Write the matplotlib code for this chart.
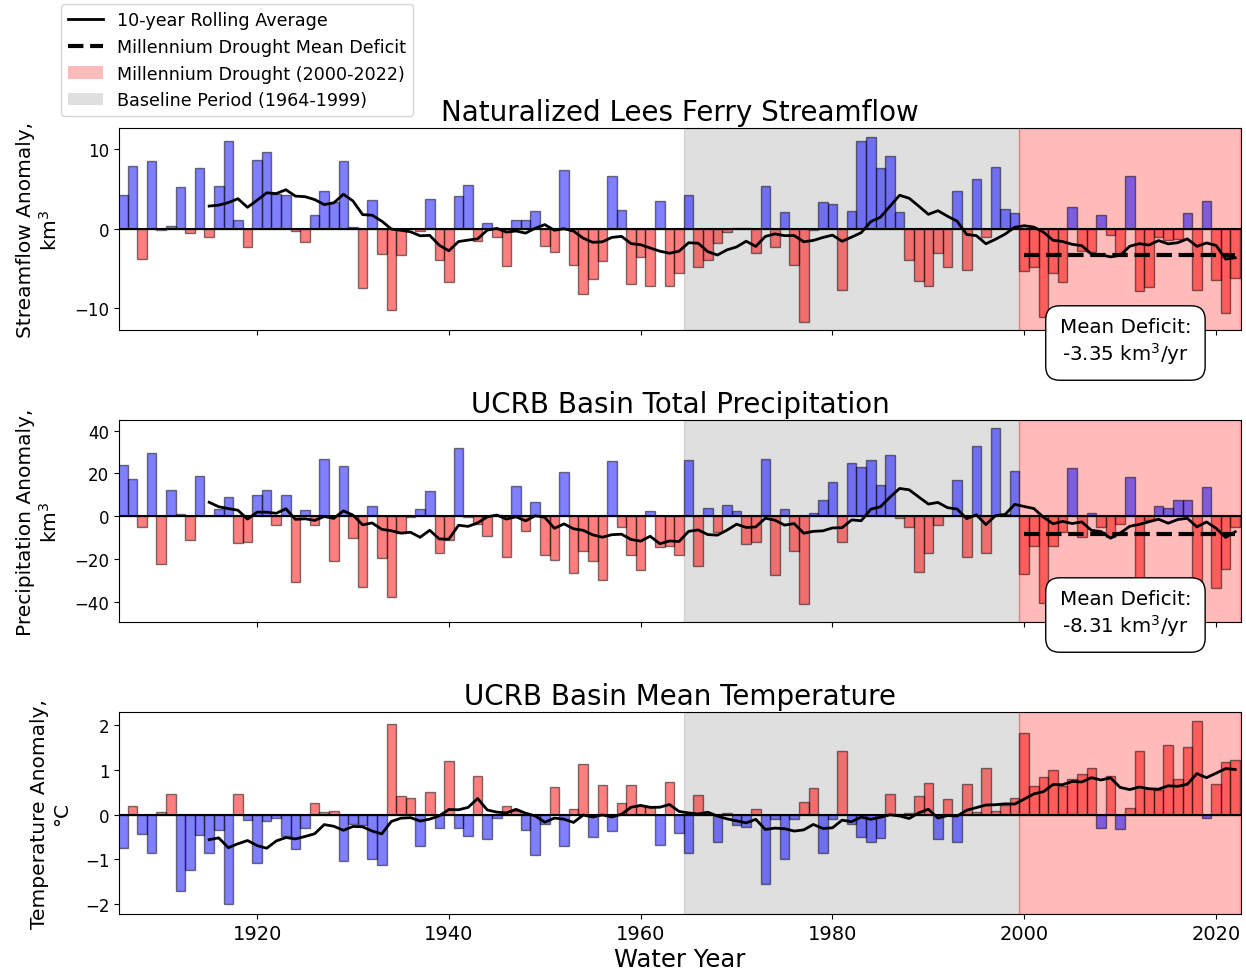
import numpy as np
import pandas as pd
import matplotlib
matplotlib.use("Agg")
import matplotlib.pyplot as plt
from matplotlib.lines import Line2D
from matplotlib.patches import Patch

# Water years and annual anomalies relative to the 1964-1999 baseline
years = np.arange(1906, 2023)

streamflow = [
    4.2, 7.9, -3.8, 8.55, -0.2, 0.3, 5.3, -0.5, 7.7, -1.0,          # 1906-1915
    5.4, 11.1, 1.1, -2.35, 8.7, 9.7, 4.4, 4.3, -0.35, -1.7,         # 1916-1925
    1.75, 4.75, 3.3, 8.5, 0.2, -7.45, 3.6, -3.2, -10.3, -3.3,       # 1926-1935
    -0.1, -0.3, 3.8, -3.95, -6.8, 4.15, 5.5, -1.6, 0.65, -1.1,      # 1936-1945
    -4.75, 1.1, 1.1, 2.2, -2.2, -3.0, 7.45, -4.6, -8.2, -6.4,       # 1946-1955
    -4.1, 6.65, 2.4, -6.95, -3.6, -7.2, 3.5, -7.2, -5.6, 4.3,       # 1956-1965
    -4.8, -3.95, -1.85, -0.45, 0.1, 0.05, -3.1, 5.4, -2.35, 2.05,   # 1966-1975
    -4.65, -11.8, -0.2, 3.3, 3.05, -7.7, 2.2, 11.0, 11.6, 7.6,      # 1976-1985
    9.2, 2.05, -4.0, -6.65, -7.3, -3.1, -4.8, 4.75, -5.2, 6.2,      # 1986-1995
    -1.1, 7.75, 2.5, 1.95, -5.3, -4.8, -11.15, -5.6, -6.8, 2.7,     # 1996-2005
    -2.8, -2.9, 1.75, -0.8, -3.3, 6.65, -7.9, -7.4, -1.1, -1.5,     # 2006-2015
    -1.3, 1.95, -7.7, 3.5, -6.45, -10.6, -6.2,                      # 2016-2022
]

precipitation = [
    24.1, 17.5, -4.8, 29.8, -22.5, 12.3, 1.2, -11.3, 18.8, 0.3,     # 1906-1915
    3.4, 8.85, -12.4, -11.8, 9.9, 12.3, -4.2, 10.1, -30.7, 2.95,    # 1916-1925
    -4.2, 27.0, -21.1, 23.4, -10.1, -33.1, 4.65, -19.6, -37.7, -7.8,  # 1926-1935
    -0.3, 3.6, 11.6, -17.2, -10.9, 31.7, -0.5, -3.6, -9.0, 0.4,     # 1936-1945
    -19.1, 14.1, -7.1, 6.5, -17.9, -20.2, 20.5, -26.6, -16.0, -21.0,  # 1946-1955
    -30.0, 25.8, -4.8, -18.3, -25.3, 2.3, -14.4, -13.7, -18.3, 26.4,  # 1956-1965
    -23.4, 4.0, -7.5, 5.3, 2.3, -12.9, -11.8, 27.0, -27.6, 3.4,     # 1966-1975
    -16.3, -41.1, 1.4, 7.6, 15.8, -11.8, 24.7, 23.1, 26.4, 14.8,    # 1976-1985
    28.7, -0.7, -4.8, -26.1, -17.1, -4.3, 0.2, 16.9, -18.8, 32.9,   # 1986-1995
    -17.1, 41.1, 1.0, 21.0, -27.2, -13.7, -40.5, -13.7, -7.5, 22.8,  # 1996-2005
    -9.5, 1.7, -4.8, -9.8, -3.6, 18.2, -31.5, -1.73, 4.7, 4.0,      # 2006-2015
    7.6, 7.6, -45.0, 13.5, -33.4, -24.5, -4.8,                      # 2016-2022
]

temperature = [
    -0.74, 0.19, -0.43, -0.86, 0.05, 0.45, -1.70, -1.24, -0.46, -0.86,  # 1906-1915
    -0.35, -2.0, 0.45, -0.13, -1.08, -0.15, -0.07, -0.48, -0.77, -0.31,  # 1916-1925
    0.25, 0.05, 0.08, -1.04, -0.21, -0.24, -1.0, -1.13, 2.02, 0.42,     # 1926-1935
    0.36, -0.71, 0.51, -0.30, 1.2, -0.30, -0.48, 0.87, -0.54, -0.07,    # 1936-1945
    0.19, 0.09, -0.35, -0.91, -0.21, 0.62, -0.71, 0.13, 1.12, -0.51,    # 1946-1955
    0.65, -0.37, 0.25, 0.67, 0.2, 0.18, -0.68, 0.73, -0.41, -0.86,      # 1956-1965
    0.43, 0.02, -0.61, 0.04, -0.24, -0.28, 0.12, -1.55, -0.09, -1.0,    # 1966-1975
    -0.09, 0.28, 0.6, -0.86, -0.09, 1.43, -0.22, -0.51, -0.61, -0.52,   # 1976-1985
    0.45, 0.02, 0.03, 0.41, 0.71, -0.54, 0.34, -0.61, 0.68, 0.06,       # 1986-1995
    1.03, 0.09, 0.22, 0.37, 1.81, 0.63, 0.83, 0.99, 0.64, 0.79,         # 1996-2005
    0.91, 1.05, -0.30, 0.85, -0.33, 0.15, 1.41, 0.59, 0.54, 1.55,       # 2006-2015
    0.80, 1.50, 2.09, -0.07, 0.68, 1.17, 1.22,                          # 2016-2022
]

panel_titles = [
    "Naturalized Lees Ferry Streamflow",
    "UCRB Basin Total Precipitation",
    "UCRB Basin Mean Temperature",
]
panel_ylabels = [
    "Streamflow Anomaly,\nkm$^3$",
    "Precipitation Anomaly,\nkm$^3$",
    "Temperature Anomaly,\n°C",
]
panel_ylims = [(-12.8, 12.7), (-49.4, 45.0), (-2.22, 2.29)]
panel_yticks = [[-10, 0, 10], [-40, -20, 0, 20, 40], [-2, -1, 0, 1, 2]]

BASELINE_START, DROUGHT_START, LAST_YEAR = 1964, 2000, 2022
ROLL_WINDOW = 10

fig = plt.figure(figsize=(12.46, 9.78), dpi=100)
left, width, height = 119 / 1246, 1122 / 1246, 202 / 978
bottoms = [1 - 331 / 978, 1 - 623 / 978, 1 - 915 / 978]
axes = [fig.add_axes([left, b, width, height]) for b in bottoms]

series_list = [streamflow, precipitation, temperature]
# wet years blue / dry years red; for temperature warm red / cool blue
positive_colors = ["blue", "blue", "red"]
negative_colors = ["red", "red", "blue"]
show_deficit = [True, True, False]
box_y = [-0.059, 0.04, None]

for i, ax in enumerate(axes):
    vals = np.asarray(series_list[i], dtype=float)
    s = pd.Series(vals, index=years)

    ax.axvspan(BASELINE_START + 0.5, DROUGHT_START - 0.5, color="gray",
               alpha=0.25, zorder=0)
    ax.axvspan(DROUGHT_START - 0.5, LAST_YEAR + 0.5, color="red",
               alpha=0.27, zorder=0)

    colors = [positive_colors[i] if v >= 0 else negative_colors[i] for v in vals]
    ax.bar(years, vals, width=1.0, color=colors, alpha=0.5,
           edgecolor="black", linewidth=1, zorder=2)
    ax.axhline(0, color="black", linewidth=1.5, zorder=3)

    rolling = s.rolling(ROLL_WINDOW).mean()
    ax.plot(rolling.index, rolling.values, color="black", linewidth=2, zorder=4)

    if show_deficit[i]:
        deficit = s[s.index >= DROUGHT_START].mean()
        ax.hlines(deficit, DROUGHT_START, LAST_YEAR, colors="black",
                  linestyles="--", linewidth=3, zorder=5)
        ax.text(0.897, box_y[i], f"Mean Deficit:\n{deficit:.2f} km$^3$/yr",
                transform=ax.transAxes, ha="center", va="center", fontsize=14.3,
                bbox=dict(boxstyle="round,pad=0.7", facecolor="white",
                          edgecolor="black"),
                zorder=10, clip_on=False)

    ax.set_xlim(years[0] - 0.4, years[-1] + 0.6)
    ax.set_ylim(*panel_ylims[i])
    ax.set_yticks(panel_yticks[i])
    ax.set_xticks([1920, 1940, 1960, 1980, 2000, 2020])
    ax.tick_params(axis="y", labelsize=12)
    ax.tick_params(axis="x", labelsize=14)
    ax.set_title(panel_titles[i], fontsize=20)
    ax.set_ylabel(panel_ylabels[i], fontsize=14.5, labelpad=10)
    if i < 2:
        ax.tick_params(axis="x", labelbottom=False)

axes[-1].set_xlabel("Water Year", fontsize=17.5, labelpad=3)

legend_handles = [
    Line2D([0], [0], color="black", linewidth=2, label="10-year Rolling Average"),
    Line2D([0], [0], color="black", linewidth=3, linestyle="--",
           label="Millennium Drought Mean Deficit"),
    Patch(facecolor="red", alpha=0.27, label="Millennium Drought (2000-2022)"),
    Patch(facecolor="gray", alpha=0.25, label="Baseline Period (1964-1999)"),
]
fig.legend(handles=legend_handles, loc="upper left",
           bbox_to_anchor=(61 / 1246, 1 - 5 / 978), borderaxespad=0,
           fontsize=12.6)

fig.savefig("out.png", dpi=100)
